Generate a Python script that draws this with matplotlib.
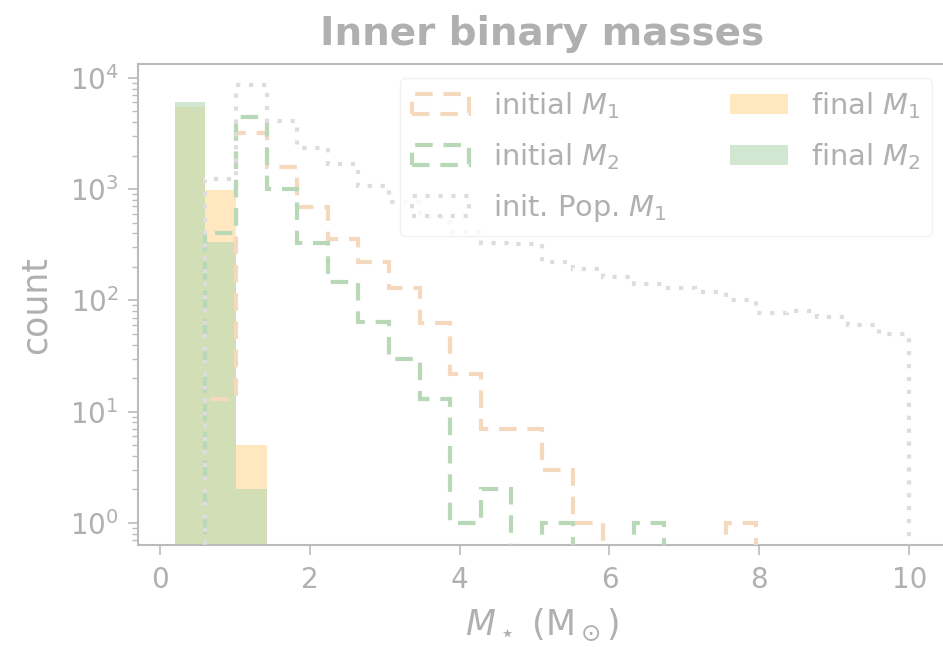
import matplotlib.pyplot as plt
import numpy as np

# common mass bins (Msun) used for every histogram
edges = np.linspace(0.2, 10, 25)
centres = 0.5 * (edges[:-1] + edges[1:])

# binary counts per mass bin
init_m1 = [0, 13, 3200, 1580, 690, 355, 221, 130, 63, 22, 7, 7,
           3, 1, 0, 0, 0, 0, 1, 0, 0, 0, 0, 0]
init_m2 = [0, 400, 4450, 1000, 330, 146, 64, 30, 13, 1, 2, 0,
           1, 0, 0, 1, 0, 0, 0, 0, 0, 0, 0, 0]
pop_m1 = [0, 1230, 8600, 4100, 2350, 1680, 1070, 765, 560, 410, 330, 320,
          220, 191, 162, 140, 130, 119, 100, 77, 80, 71, 60, 50]
final_m1 = [5500, 980, 5] + [0] * 21
final_m2 = [6000, 335, 2] + [0] * 21

grey = '#b0b0b0'
plt.rcParams['font.size'] = 20
plt.rcParams['text.color'] = grey
plt.rcParams['axes.labelcolor'] = grey
plt.rcParams['xtick.color'] = grey
plt.rcParams['ytick.color'] = grey

fig = plt.figure(figsize=(9.43, 6.47), dpi=100)
ax = fig.add_axes([138 / 943, 1 - 545 / 647, 808 / 943, 481 / 647])
ax.set_yscale('log')

ax.hist(centres, bins=edges, weights=final_m1, histtype='bar', rwidth=1.0,
        color='#ffe8bf', label='final $M_1$', zorder=1)
ax.hist(centres, bins=edges, weights=final_m2, histtype='bar', rwidth=1.0,
        color='#b1d7b1', alpha=0.58, label='final $M_2$', zorder=2)

dashed = (0, (4.2, 2.6))
dotted = (0, (1, 2.1))
ax.hist(centres, bins=edges, weights=init_m1, histtype='step', ls=dashed,
        lw=3, color='#f5d9bf', label='initial $M_1$', zorder=3)
ax.hist(centres, bins=edges, weights=init_m2, histtype='step', ls=dashed,
        lw=3, color='#b8d8b8', label='initial $M_2$', zorder=3)
ax.hist(centres, bins=edges, weights=pop_m1, histtype='step', ls=dotted,
        lw=3, color='#dddddd', label='init. Pop. $M_1$', zorder=3)

ax.set_ylim(0.634, 13300)
ax.set_title('Inner binary masses', fontsize=28, fontweight='bold',
             color=grey, pad=14)
ax.set_xlabel(r'$M_\star$ (M$_\odot$)', fontsize=25, labelpad=9)
ax.set_ylabel('count', fontsize=25, labelpad=12)

for s in ax.spines.values():
    s.set_color('#bbbbbb')
    s.set_linewidth(1.5)
ax.tick_params(which='major', length=7, width=1.2, color='#bbbbbb', pad=8)
ax.tick_params(which='minor', length=4.5, width=1.0, color='#bbbbbb')
ax.tick_params(axis='y', which='major', pad=7)
ax.set_xticks([0, 2, 4, 6, 8, 10])

handles, labels = ax.get_legend_handles_labels()
order = [2, 3, 4, 0, 1]
leg = ax.legend([handles[i] for i in order], [labels[i] for i in order],
                ncol=2, loc='upper right', columnspacing=2.2,
                labelspacing=0.7, fontsize=20.8)
leg.get_frame().set_edgecolor('#eeeeee')

fig.savefig('out.png', dpi=100)
